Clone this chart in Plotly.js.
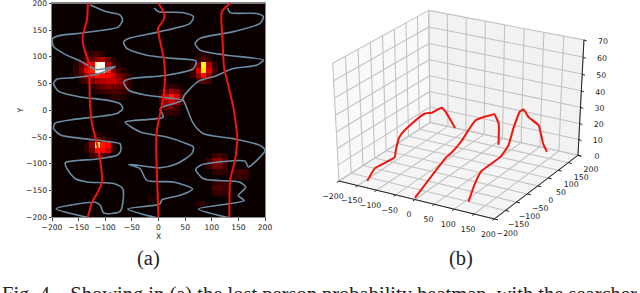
<!DOCTYPE html>
<html><head><meta charset="utf-8"><script src="https://cdn.plot.ly/plotly-3.0.1.min.js"></script>
<style>html,body{margin:0;padding:0;background:#fff;overflow:hidden}#g{width:640px;height:293px}</style></head>
<body><div id="g"></div><script>
const sweep1X=[-128,-97,-72,-67.5,-75,-109,-147,-184,-199,-197,-178,-147,-133,-116,-81,-97,-122,-159,-191,-197,-188,-147,-97,-72,-67,-78,-116,-159,-194,-197,-184,-141,-72,-71,-71,-78,-116,-175,-172,-156,-134,-84,-67,-72,-103,-109,-119,-192,-130];
const sweep1Y=[197,184,178,169,156,149,144,140,134,119,106,92,84,76,82,74,66,61,58,50,36,25,19,12,3,-6,-12,-17,-24,-34,-46,-53,-62.5,-66,-76,-84,-91,-98,-109,-128,-134,-137,-147,-189,-192,-178,-172,-184,-201];
const sweep2X=[-8,0,47,65.6,59.4,3,-56,-65.6,-59.4,-22,28,70.6,65.6,15.6,-53,-65.6,-56,-22,45.6,15.6,3,9,-62.5,-34,15.6,53,65.6,62.5,34.4,3,-56,-34.4,-22,28,64,40.6,6,3,-58,-3];
const sweep2Y=[191,184.4,182.5,175,162.5,147,134.4,128,115.6,103,97,92,78,65.6,59,53,37.5,28,18.75,9,3,-12.5,-22,-40.6,-50,-62.5,-68.7,-81,-100,-107.5,-101,-109.4,-131,-134,-147,-159,-167.5,-175,-184.4,-201];
const sweep3X=[130,134.4,184.4,197,190.6,140.6,78,68.7,78,128,197,184.4,140.6,103,78,59.4,45.6,50,65.6,84.4,140.6,190.6,200,184.4,168.7,162.5,78,70,84.4,153,163.7,150,161,75,134];
const sweep3Y=[191,182.5,181,175,162.5,147,134.4,125,112.5,103,93.75,84.4,78,62.5,56,40.6,22,12.5,-25,-43.75,-53,-65.6,-75,-93.75,-106,-95,-103,-111,-128,-134.4,-143.75,-159.4,-168.75,-184.4,-201];
const track1X=[-132.5,-134.4,-142.5,-140.6,-131,-129,-125,-115.6,-109.4,-106,-115.6,-125,-133];
const track1Y=[201,168.75,137.5,118.75,87.5,18.75,-25,-62.5,-93.75,-134.4,-156,-172,-201];
const track2X=[0,10.6,9.4,-1,9.4,12.5,8,-3,-4.4,-3,0];
const track2Y=[200,181,168.75,153,100,62.5,18.75,-37.5,-65,-118.75,-201];
const track3X=[135.6,118.75,120.6,123,140.6,148,146.9,143.7,134.4,133];
const track3Y=[201,184,125,81,6,-50,-68.75,-93.75,-131,-201];
const heatRows=[
[105,-135,[.04,.07,.08,.04]],[95,-145,[.04,.08,.14,.2,.24,.13,.05]],[85,-155,[.05,.12,.25,.33,.95,1,.25,.08,.04]],
[75,-155,[.06,.15,.33,.42,1,1,.42,.2,.08,.04]],[65,-155,[.05,.1,.22,.3,.4,.38,.36,.3,.18,.1,.05]],[55,-145,[.05,.1,.17,.22,.25,.27,.28,.24,.14,.06]],
[45,-125,[.05,.1,.14,.18,.16,.14,.13,.07]],[35,-115,[.04,.07,.09,.1,.09,.07,.04]],[25,-95,[.03,.05,.05,.03]],
[-45,-125,[.03,.05,.03]],[-55,-125,[.08,.12,.1,.05]],[-65,-135,[.05,.2,.8,.4,.36,.06]],[-75,-135,[.05,.15,.38,.36,.28,.06]],[-85,-125,[.08,.12,.1,.05]],
[105,75,[.03,.05,.03]],[95,75,[.07,.12,.07]],[85,65,[.05,.18,.75,.25,.06]],[75,65,[.08,.32,.72,.32,.1]],[65,65,[.06,.22,.38,.22,.06]],[55,75,[.08,.14,.08]],
[45,15,[.05,.07,.05]],[35,5,[.05,.14,.22,.18,.06]],[25,5,[.1,.28,.4,.3,.1]],[15,5,[.08,.22,.3,.22,.08]],[5,15,[.12,.15,.08]],[-5,15,[.05,.06,.05]],
[-85,105,[.07,.09,.05]],[-95,95,[.07,.18,.22,.1]],[-105,95,[.07,.14,.16,.08]],[-115,105,[.05,.07,.05]],[-115,145,[.07,.08,.07]],[-125,145,[.07,.07,.05]],
[-135,105,[.05,.08,.07]],[-145,105,[.08,.1,.08]],[-155,105,[.05,.07,.05]],[-175,75,[.04,.05]],[-165,-15,[.03,.03]]];
const path1X=[-133,-123,-108,-108,-108,-112,-120,-128,-129,-136,-140,-130];
const path1Y=[-186,-168,-108,-104,-88,-68,-16,56,92,148,172,200];
const path1Z=[2.5,9.2,11,14,21,22,22.3,22,19.5,17.3,12.6,0];
const path2X=[0,-4,-4,0,8,12,12,8,8,8,10];
const path2Y=[-200,-57,-31,6,24,48,83,125,143,165,162];
const path2Z=[1,11.8,12.5,16.4,22,25.8,24.6,21.9,21,13,0];
const path3X=[133,134,134,145,147,143,137,134,128,120,120,128];
const path3Y=[-195,-173,-142,-76,-44,-16,25,48,84,151,177,182];
const path3Z=[6,13.4,19,22,26,33,39.5,38.5,30.5,19,5,0];
const xyTicks=[-200,-150,-100,-50,0,50,100,150,200];
const zTicks=[0,10,20,30,40,50,60,70];
const captionText="Fig. 4.   Showing in (a) the lost person probability heatmap, with the searcher";
const panelLabels=["(a)","(b)"];

const cells=[],cols=[];for(let v=-195;v<200;v+=10){cells.push(v);cols.push(v);}
const z=cells.map(()=>cols.map(()=>0));
heatRows.forEach(([y,x0,vals])=>vals.forEach((v,i)=>{z[cells.indexOf(y)][cols.indexOf(x0+10*i)]=v;}));
const F='"DejaVu Sans"',tf={family:F,size:7.6,color:'#222'};
const blue={color:'#6c8ca3',width:1.6,shape:'spline',smoothing:.7},red={color:'#f2140c',width:2,shape:'spline',smoothing:.5};
const L=(x,y,line)=>({type:'scatter',mode:'lines',x,y,line,hoverinfo:'skip',showlegend:false,xaxis:'x',yaxis:'y'});

/* matplotlib-style 3D view: elev 30, azim -60, dist 10 */
const E=30*Math.PI/180,A=-60*Math.PI/180,D=10;
const n=[Math.cos(E)*Math.cos(A),Math.cos(E)*Math.sin(A),Math.sin(E)];
const hyp=Math.hypot(n[0],n[1]),u=[-n[1]/hyp,n[0]/hyp,0];
const v=[n[1]*u[2]-n[2]*u[1],n[2]*u[0]-n[0]*u[2],n[0]*u[1]-n[1]*u[0]];
const dot=(a,b)=>a[0]*b[0]+a[1]*b[1]+a[2]*b[2];
function proj(x,y,zz){const p=[x/400,y/400,zz/70-.5];const w=D-dot(n,p);return [dot(u,p)/w,dot(v,p)/w];}
const S=(xs,ys,line,extra)=>Object.assign({type:'scatter',mode:'lines',x:xs,y:ys,line,hoverinfo:'skip',showlegend:false,xaxis:'x2',yaxis:'y2'},extra||{});
function poly(pts){const xs=[],ys=[];pts.forEach(p=>{if(!p){xs.push(null);ys.push(null);}else{const q=proj(...p);xs.push(q[0]);ys.push(q[1]);}});return [xs,ys];}
function pane(pts,color){const [a,b]=poly(pts.concat([pts[0]]));return S(a,b,{color:'rgba(0,0,0,0)',width:0},{fill:'toself',fillcolor:color});}
function segs(list,line){const pts=[];list.forEach(s=>{pts.push(s[0],s[1],null);});const [a,b]=poly(pts);return S(a,b,line);}
const R=200,Zt=70;
const gridLine={color:'#c3c3c3',width:1.1},axLine={color:'#222',width:1};
const floorGrid=[],leftGrid=[],backGrid=[];
xyTicks.forEach(t=>{floorGrid.push([[t,-R,0],[t,R,0]],[[-R,t,0],[R,t,0]]);leftGrid.push([[-R,t,0],[-R,t,Zt]]);backGrid.push([[t,R,0],[t,R,Zt]]);});
zTicks.forEach(t=>{leftGrid.push([[-R,-R,t],[-R,R,t]]);backGrid.push([[-R,R,t],[R,R,t]]);});
const xTick=xyTicks.map(t=>[[t,-R,0],[t,-R-9,0]]),yTick=xyTicks.map(t=>[[R,t,0],[R+9,t,0]]),zTick=zTicks.map(t=>[[R,R,t],[R+9,R-4,t]]);
const pxX=1793,pxY=1345;
function labels(ticks,fn,dx,dy){const xs=[],ys=[],tx=[];ticks.forEach(t=>{const q=proj(...fn(t));xs.push(q[0]+dx/pxX);ys.push(q[1]-dy/pxY);tx.push(String(t).replace('-','\u2212'));});
 return {type:'scatter',mode:'text',x:xs,y:ys,text:tx,textposition:'middle center',textfont:{family:F,size:7.8,color:'#222'},cliponaxis:false,hoverinfo:'skip',showlegend:false,xaxis:'x2',yaxis:'y2'};}
const path3=(X,Y,Z)=>{const [a,b]=poly(X.map((x,i)=>[x,Y[i],Z[i]]));return S(a,b,{color:'#f2140c',width:2,shape:'spline',smoothing:.4});};
const corner=proj(-R,-R,0);
const x2lo=corner[0]-39/pxX,x2hi=corner[0]+301/pxX,y2lo=corner[1]-112/pxY,y2hi=corner[1]+181/pxY;

const data=[
{type:'heatmap',x:cols,y:cells,z,zmin:0,zmax:1,showscale:false,hoverinfo:'skip',
 colorscale:[[0,'#0b0000'],[.365,'#ff0000'],[.746,'#ffff00'],[1,'#ffffff']]},
L(sweep1X,sweep1Y,blue),L(sweep2X,sweep2Y,blue),L(sweep3X,sweep3Y,blue),
L(track1X,track1Y,red),L(track2X,track2Y,red),L(track3X,track3Y,red),
pane([[-R,-R,0],[-R,R,0],[-R,R,Zt],[-R,-R,Zt]],'#f9f9f9'),
pane([[-R,R,0],[R,R,0],[R,R,Zt],[-R,R,Zt]],'#f2f2f2'),
pane([[-R,-R,0],[R,-R,0],[R,R,0],[-R,R,0]],'#f5f5f5'),
segs(floorGrid,gridLine),segs(leftGrid,gridLine),segs(backGrid,gridLine),
segs([[[-R,-R,0],[R,-R,0]],[[R,-R,0],[R,R,0]],[[R,R,0],[R,R,Zt]]],axLine),
segs(xTick,axLine),segs(yTick,axLine),segs(zTick,axLine),
labels(xyTicks,t=>[t,-R,0],-6,16),labels(xyTicks,t=>[R,t,0],13,15),labels(zTicks,t=>[R,R,t],19,2),
path3(path1X,path1Y,path1Z),path3(path2X,path2Y,path2Z),path3(path3X,path3Y,path3Z)];
const a2=(domain,range,anchor)=>({domain,range,anchor,autorange:false,visible:false,fixedrange:true});
const ax=(anchor,domain,t)=>({domain,anchor,range:[-200,200],autorange:false,dtick:50,tick0:0,ticks:'outside',ticklen:2.5,tickcolor:'#444',tickfont:tf,ticklabeloverflow:'allow',
 showgrid:false,zeroline:false,showline:true,linecolor:'#888',linewidth:1,mirror:true,title:{text:t,font:{family:F,size:7.6,color:'#222'},standoff:1}});
const ann=(text,x,y,xanchor,size)=>({text,xref:'paper',yref:'paper',x:x/640,y:1-y/293,xanchor,yanchor:'middle',showarrow:false,font:{family:'"Liberation Serif"',size,color:'#222'}});
const layout={width:640,height:293,margin:{l:0,r:0,t:0,b:0},paper_bgcolor:'#fff',plot_bgcolor:'#fff',showlegend:false,
 xaxis:ax('y',[52/640,265/640],'X'),yaxis:ax('x',[75.7/293,289.7/293],'Y'),
 xaxis2:a2([300/640,1],[x2lo,x2hi],'y2'),yaxis2:a2([0,1],[y2lo,y2hi],'x2'),
 annotations:[ann(panelLabels[0],148,258,'center',20.5),ann(panelLabels[1],461,258,'center',20.5),ann(captionText,0,294,'left',20.5)]};
Plotly.newPlot('g',data,layout,{displayModeBar:false,staticPlot:true});
</script></body></html>
